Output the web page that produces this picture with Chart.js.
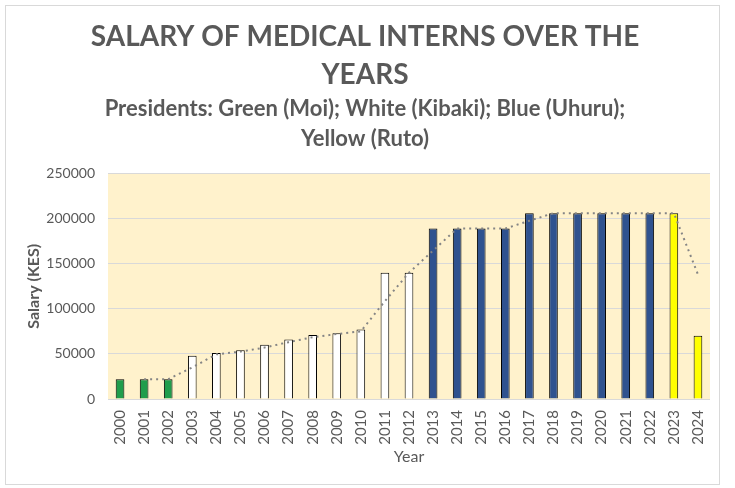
<!DOCTYPE html>
<html>
<head>
<meta charset="utf-8">
<script src="https://cdn.jsdelivr.net/npm/chart.js@4"></script>
<style>
  html, body { margin: 0; padding: 0; background: #fff; }
  #wrap { position: absolute; left: 0; top: 0; width: 735px; height: 488px; }
  #frame { position: absolute; left: 5px; top: 5px; width: 713px; height: 478px; border: 1px solid #d9d9d9; }
</style>
</head>
<body>
<div id="wrap">
  <div id="frame"></div>
  <canvas id="chart" width="735" height="488"></canvas>
</div>
<script>
const years = ['2000', '2001', '2002', '2003', '2004', '2005', '2006', '2007', '2008', '2009',
  '2010', '2011', '2012', '2013', '2014', '2015', '2016', '2017', '2018', '2019',
  '2020', '2021', '2022', '2023', '2024']

const salary = [22000, 22000, 22000, 48000, 51000, 54000, 60000, 66000, 71000, 73000,
  77000, 140000, 140000, 189000, 189000, 189000, 189000, 206000, 206000, 206000,
  206000, 206000, 206000, 206000, 70000]

// dotted trend line
const trend = [null, 22000, 22000, 35000, 49500, 52500, 57000, 63000, 68500, 72000,
  75000, 108500, 140000, 164500, 189000, 189000, 189000, 197500, 206000, 206000,
  206000, 206000, 206000, 206000, 138000]

const president = ['Moi', 'Moi', 'Moi', 'Kibaki', 'Kibaki', 'Kibaki', 'Kibaki', 'Kibaki', 'Kibaki', 'Kibaki',
  'Kibaki', 'Kibaki', 'Kibaki', 'Uhuru', 'Uhuru', 'Uhuru', 'Uhuru', 'Uhuru', 'Uhuru', 'Uhuru',
  'Uhuru', 'Uhuru', 'Uhuru', 'Ruto', 'Ruto']

const yTicks = [0, 50000, 100000, 150000, 200000, 250000]

const presidentColors = {
  Moi: '#1f9d4c',
  Kibaki: '#ffffff',
  Uhuru: '#2f528f',
  Ruto: '#ffff00'
}

const plotBackground = {
  id: 'plotBackground',
  beforeDraw(chart) {
    const { ctx, chartArea } = chart
    ctx.save()
    ctx.fillStyle = '#fff2cc'
    ctx.fillRect(chartArea.left, chartArea.top, chartArea.right - chartArea.left, chartArea.bottom - chartArea.top)
    ctx.restore()
  }
}

const font = 'Lato, "Open Sans", sans-serif'
const grey = '#595959'

new Chart(document.getElementById('chart').getContext('2d'), {
  type: 'bar',
  data: {
    labels: years,
    datasets: [{
      type: 'line',
      label: 'Trend',
      data: trend,
      borderColor: '#858585',
      borderWidth: 2,
      borderDash: [2, 4],
      pointRadius: 0,
      tension: 0,
      fill: false,
      order: 0
    }, {
      label: 'Salary',
      data: salary,
      backgroundColor: president.map(p => presidentColors[p]),
      borderColor: '#000000',
      borderWidth: 1,
      categoryPercentage: 1,
      barPercentage: 0.36,
      order: 1
    }]
  },
  options: {
    responsive: false,
    animation: false,
    layout: { padding: { top: 8, left: 20, right: 25, bottom: 22 } },
    plugins: {
      legend: { display: false },
      tooltip: { enabled: false },
      title: {
        display: true,
        text: ['SALARY OF MEDICAL INTERNS OVER THE', 'YEARS'],
        color: grey,
        font: { family: font, size: 28, weight: 'bold', lineHeight: 1.35 },
        padding: { top: 10, bottom: 0 }
      },
      subtitle: {
        display: true,
        text: ['Presidents: Green (Moi); White (Kibaki); Blue (Uhuru);', 'Yellow (Ruto)'],
        color: grey,
        font: { family: font, size: 22, weight: 'bold', lineHeight: 1.36 },
        padding: { top: 0, bottom: 20 }
      }
    },
    scales: {
      x: {
        grid: { display: false },
        border: { display: false },
        ticks: {
          color: grey,
          font: { family: font, size: 15 },
          minRotation: 90,
          maxRotation: 90,
          autoSkip: false
        },
        title: {
          display: true,
          text: 'Year',
          color: grey,
          font: { family: font, size: 16 },
          padding: { top: 0, bottom: 0 }
        },
        afterFit(scale) { scale.height = 67 }
      },
      y: {
        min: 0,
        max: 250000,
        afterBuildTicks(scale) { scale.ticks = yTicks.map(v => ({ value: v })) },
        grid: { color: '#d9d9d9', drawTicks: false },
        border: { display: false },
        ticks: {
          color: grey,
          font: { family: font, size: 14 },
          padding: 13,
          callback: v => String(v)
        },
        title: {
          display: true,
          text: 'Salary (KES)',
          color: grey,
          font: { family: font, size: 16, weight: 'bold' }
        },
        afterFit(scale) { scale.width = 88 }
      }
    }
  },
  plugins: [plotBackground]
})
</script>
</body>
</html>
